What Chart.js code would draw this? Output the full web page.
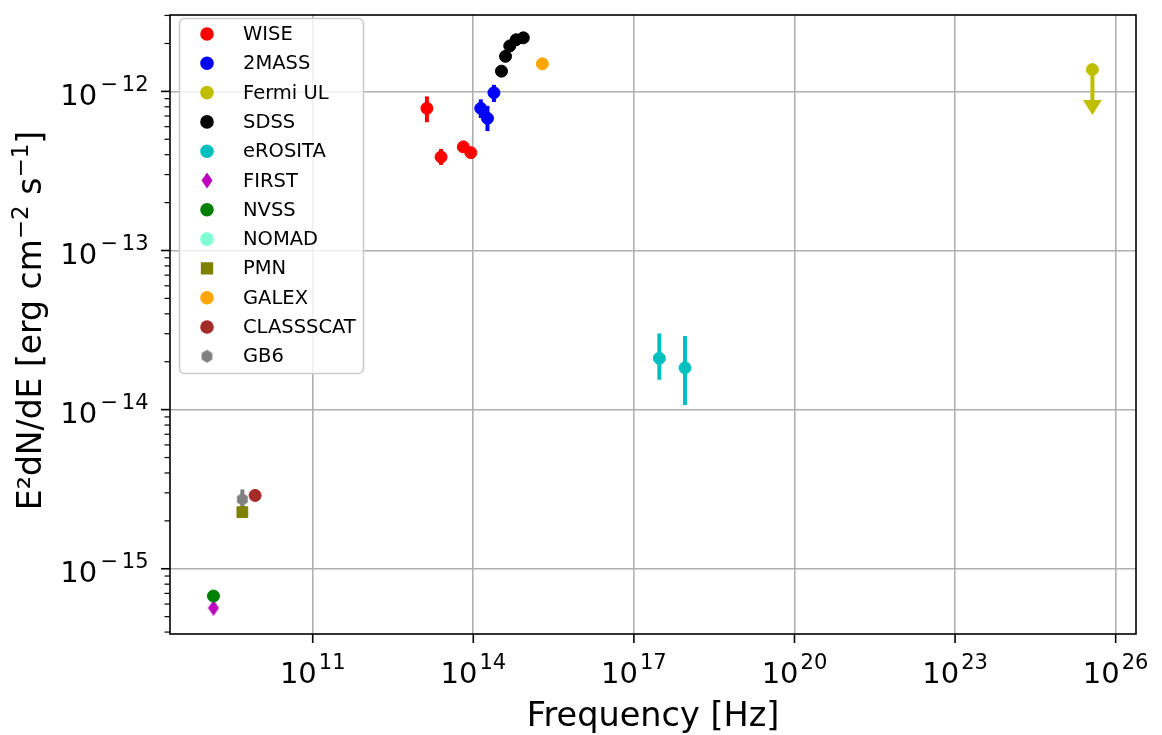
<!DOCTYPE html>
<html>
<head>
<meta charset="utf-8">
<script src="https://cdn.jsdelivr.net/npm/chart.js@4.4.1/dist/chart.umd.min.js"></script>
<style>
  html, body { margin: 0; padding: 0; background: #fff; }
  canvas { display: block; }
</style>
</head>
<body>
<canvas id="sed" width="1162" height="735"></canvas>
<script>
// frequencies in Hz, E^2 dN/dE in erg cm^-2 s^-1
const wiseFreq = [1.36e13, 2.50e13, 6.52e13, 8.99e13]
const wiseFlux = [7.82e-13, 3.87e-13, 4.48e-13, 4.12e-13]
const wiseLo   = [6.40e-13, 3.45e-13, null, null]
const wiseHi   = [9.30e-13, 4.35e-13, null, null]

const tmassFreq = [1.38e14, 1.84e14, 2.43e14]
const tmassFlux = [7.82e-13, 6.77e-13, 9.80e-13]
const tmassLo   = [6.80e-13, 5.63e-13, 8.57e-13]
const tmassHi   = [8.91e-13, 8.10e-13, 1.10e-12]

const fermiFreq = [3.68e25]
const fermiFlux = [1.37e-12]
const fermiArrowTo = [7.10e-13]

const sdssFreq = [3.36e14, 4.0e14, 4.8e14, 6.3e14, 8.6e14]
const sdssFlux = [1.34e-12, 1.66e-12, 1.93e-12, 2.11e-12, 2.17e-12]

const erositaFreq = [2.99e17, 9.02e17]
const erositaFlux = [2.10e-14, 1.83e-14]
const erositaLo   = [1.54e-14, 1.07e-14]
const erositaHi   = [3.01e-14, 2.90e-14]

const firstFreq = [1.4e9]
const firstFlux = [5.67e-16]
const nvssFreq = [1.4e9]
const nvssFlux = [6.74e-16]
const nomadFreq = []
const nomadFlux = []
const pmnFreq = [4.85e9]
const pmnFlux = [2.27e-15]
const galexFreq = [1.95e15]
const galexFlux = [1.49e-12]
const classFreq = [8.4e9]
const classFlux = [2.89e-15]
const gb6Freq = [4.85e9]
const gb6Flux = [2.73e-15]
const gb6Lo = [2.36e-15]
const gb6Hi = [3.15e-15]

const xTicks = [1e11, 1e14, 1e17, 1e20, 1e23, 1e26]
const yTicks = [1e-15, 1e-14, 1e-13, 1e-12]
const xRange = [2.158e8, 2.399e26]
const yRange = [3.89e-16, 3.02e-12]

const FONT = '"DejaVu Sans", sans-serif'

// custom marker shapes (thin diamond, hexagon)
function markerCanvas(w, h, color, path) {
  const c = document.createElement('canvas')
  c.width = w; c.height = h
  const g = c.getContext('2d')
  g.fillStyle = color
  g.beginPath(); path(g, w, h); g.closePath(); g.fill()
  return c
}
const thinDiamond = markerCanvas(12, 17, '#bf00bf', (g, w, h) => {
  g.moveTo(w/2, 0.5); g.lineTo(w - 0.5, h/2); g.lineTo(w/2, h - 0.5); g.lineTo(0.5, h/2)
})
const hexagon = markerCanvas(13, 14, '#808080', (g, w, h) => {
  for (let k = 0; k < 6; k++) {
    const a = -Math.PI/2 + k*Math.PI/3
    const x = w/2 + 6.2*Math.cos(a), y = h/2 + 6.6*Math.sin(a)
    k ? g.lineTo(x, y) : g.moveTo(x, y)
  }
})

const series = [
  {label: 'WISE', x: wiseFreq, y: wiseFlux, lo: wiseLo, hi: wiseHi, color: '#ff0000', style: 'circle', r: 6},
  {label: '2MASS', x: tmassFreq, y: tmassFlux, lo: tmassLo, hi: tmassHi, color: '#0000ff', style: 'circle', r: 6},
  {label: 'Fermi UL', x: fermiFreq, y: fermiFlux, arrow: fermiArrowTo, color: '#bfbf00', style: 'circle', r: 6},
  {label: 'SDSS', x: sdssFreq, y: sdssFlux, color: '#000000', style: 'circle', r: 6},
  {label: 'eROSITA', x: erositaFreq, y: erositaFlux, lo: erositaLo, hi: erositaHi, color: '#00bfbf', style: 'circle', r: 6},
  {label: 'FIRST', x: firstFreq, y: firstFlux, color: '#bf00bf', style: thinDiamond, r: 6},
  {label: 'NVSS', x: nvssFreq, y: nvssFlux, color: '#008000', style: 'circle', r: 6},
  {label: 'NOMAD', x: nomadFreq, y: nomadFlux, color: '#7fffd4', style: 'circle', r: 6},
  {label: 'PMN', x: pmnFreq, y: pmnFlux, color: '#808000', style: 'rect', r: 7.6},
  {label: 'GALEX', x: galexFreq, y: galexFlux, color: '#ffa500', style: 'circle', r: 6},
  {label: 'CLASSSCAT', x: classFreq, y: classFlux, color: '#a52a2a', style: 'circle', r: 6},
  {label: 'GB6', x: gb6Freq, y: gb6Flux, lo: gb6Lo, hi: gb6Hi, color: '#808080', style: hexagon, r: 6}
]

const datasets = series.map((s, i) => ({
  label: s.label,
  data: s.x.map((f, j) => ({x: f, y: s.y[j]})),
  pointStyle: s.style,
  pointRadius: s.r,
  backgroundColor: s.color,
  borderColor: s.color,
  borderWidth: 1,
  showLine: false,
  order: series.length - i   // later series drawn on top, like matplotlib
}))

// "10" with a raised exponent
function drawPow(ctx, exp, x, y, align) {
  const neg = exp < 0
  const digits = String(Math.abs(exp))
  ctx.font = '29px ' + FONT
  const wb = ctx.measureText('10').width
  ctx.font = '21px ' + FONT
  const wm = neg ? ctx.measureText('\u2212').width + 3.8 : 0
  const wd = ctx.measureText(digits).width
  const gap = neg ? 3.3 : 2
  const total = wb + gap + wm + wd
  const left = align === 'center' ? x - total/2 : x - total
  ctx.textAlign = 'left'
  ctx.textBaseline = 'alphabetic'
  ctx.fillStyle = '#000'
  ctx.font = '29px ' + FONT
  ctx.fillText('10', left, y)
  ctx.font = '21px ' + FONT
  if (neg) ctx.fillText('\u2212', left + wb + gap, y - 14)
  ctx.fillText(digits, left + wb + gap + wm, y - 14)
}

// text made of pieces, some of them superscript
function drawRich(ctx, parts, x, y) {
  const big = '33px ' + FONT, small = '23px ' + FONT
  let total = 0
  parts.forEach(p => { ctx.font = p.sup ? small : big; p.w = ctx.measureText(p.t).width; total += p.w })
  let cx = x - total/2
  ctx.textAlign = 'left'
  ctx.textBaseline = 'alphabetic'
  parts.forEach(p => {
    ctx.font = p.sup ? small : big
    ctx.fillText(p.t, cx, p.sup ? y - 13 : y)
    cx += p.w
  })
}

const sedPlugin = {
  id: 'sed',
  beforeDatasetsDraw(chart) {
    const ctx = chart.ctx, xs = chart.scales.x, ys = chart.scales.y
    ctx.save()
    ctx.lineWidth = 4
    series.forEach(s => {
      ctx.strokeStyle = s.color
      ctx.fillStyle = s.color
      s.x.forEach((f, j) => {
        const px = xs.getPixelForValue(f)
        if (s.lo && s.lo[j] != null) {
          ctx.beginPath()
          ctx.moveTo(px, ys.getPixelForValue(s.hi[j]))
          ctx.lineTo(px, ys.getPixelForValue(s.lo[j]))
          ctx.stroke()
        }
        if (s.arrow) {
          const top = ys.getPixelForValue(s.y[j])
          const tip = ys.getPixelForValue(s.arrow[j])
          ctx.beginPath()
          ctx.moveTo(px, top)
          ctx.lineTo(px, tip - 12)
          ctx.stroke()
          ctx.beginPath()
          ctx.moveTo(px - 9.5, tip - 15)
          ctx.lineTo(px + 9.5, tip - 15)
          ctx.lineTo(px, tip)
          ctx.closePath()
          ctx.fill()
        }
      })
    })
    ctx.restore()
  },
  afterDraw(chart) {
    const ctx = chart.ctx, xs = chart.scales.x, ys = chart.scales.y
    const a = chart.chartArea
    ctx.save()
    ctx.strokeStyle = '#000'
    ctx.lineWidth = 1.6

    // y ticks: major + minor
    for (let d = -16; d <= -11; d++) {
      for (let m = 1; m <= 9; m++) {
        const v = m * Math.pow(10, d)
        if (v < yRange[0] || v > yRange[1]) continue
        const py = ys.getPixelForValue(v)
        const len = m === 1 ? 9 : 5.5
        ctx.lineWidth = m === 1 ? 1.6 : 1.2
        ctx.beginPath(); ctx.moveTo(a.left - len, py); ctx.lineTo(a.left, py); ctx.stroke()
      }
    }
    ctx.lineWidth = 1.6
    xTicks.forEach(v => {
      const px = xs.getPixelForValue(v)
      ctx.beginPath(); ctx.moveTo(px, a.bottom); ctx.lineTo(px, a.bottom + 9); ctx.stroke()
    })

    // frame
    ctx.strokeRect(a.left, a.top, a.right - a.left, a.bottom - a.top)

    // tick labels
    xTicks.forEach(v => drawPow(ctx, Math.round(Math.log10(v)), xs.getPixelForValue(v), a.bottom + 49, 'center'))
    yTicks.forEach(v => {
      const py = ys.getPixelForValue(v)
      drawPow(ctx, Math.round(Math.log10(v)), a.left - 21.5, py + 13.5, 'right')
    })

    // axis titles
    ctx.fillStyle = '#000'
    ctx.font = '33.5px ' + FONT
    ctx.textAlign = 'center'
    ctx.textBaseline = 'alphabetic'
    ctx.fillText('Frequency [Hz]', (a.left + a.right)/2, 726)
    ctx.translate(41, (a.top + a.bottom)/2 - 4)
    ctx.rotate(-Math.PI/2)
    drawRich(ctx, [
      {t: 'E\u00b2dN/dE [erg cm'}, {t: '\u22122', sup: true},
      {t: ' s'}, {t: '\u22121', sup: true}, {t: ']'}
    ], 0, 0)
    ctx.setTransform(1, 0, 0, 1, 0, 0)

    // legend box
    const lx = 179.5, ly = 18.5, lw = 184, lh = 355, rr = 5
    ctx.beginPath()
    ctx.roundRect(lx, ly, lw, lh, rr)
    ctx.fillStyle = 'rgba(255,255,255,0.8)'
    ctx.fill()
    ctx.strokeStyle = '#cccccc'
    ctx.lineWidth = 1.6
    ctx.stroke()
    series.forEach((s, i) => {
      const cy = 34 + i * 29.3
      ctx.fillStyle = s.color
      ctx.strokeStyle = s.color
      Chart.helpers.drawPoint(ctx, {pointStyle: s.style, radius: s.r, borderWidth: 1, rotation: 0}, 207, cy)
      ctx.fillStyle = '#000'
      ctx.font = '19.5px ' + FONT
      ctx.textAlign = 'left'
      ctx.textBaseline = 'middle'
      ctx.fillText(s.label, 243, cy + 1)
    })
    ctx.restore()
  }
}

new Chart(document.getElementById('sed'), {
  type: 'scatter',
  data: {datasets: datasets},
  options: {
    responsive: false,
    animation: false,
    events: [],
    layout: {padding: {left: 0, top: 15, right: 26, bottom: 0}},
    plugins: {legend: {display: false}, tooltip: {enabled: false}},
    scales: {
      x: {
        type: 'logarithmic',
        min: xRange[0], max: xRange[1],
        bounds: 'data',
        afterBuildTicks: s => { s.ticks = xTicks.map(v => ({value: v, major: true})) },
        afterFit: s => { s.height = 101 },
        ticks: {display: false},
        grid: {color: '#b0b0b0', lineWidth: 1.6, drawTicks: false},
        border: {display: false}
      },
      y: {
        type: 'logarithmic',
        min: yRange[0], max: yRange[1],
        bounds: 'data',
        afterBuildTicks: s => { s.ticks = yTicks.map(v => ({value: v, major: true})) },
        afterFit: s => { s.width = 170 },
        ticks: {display: false},
        grid: {color: '#b0b0b0', lineWidth: 1.6, drawTicks: false},
        border: {display: false}
      }
    }
  },
  plugins: [sedPlugin]
})
</script>
</body>
</html>
